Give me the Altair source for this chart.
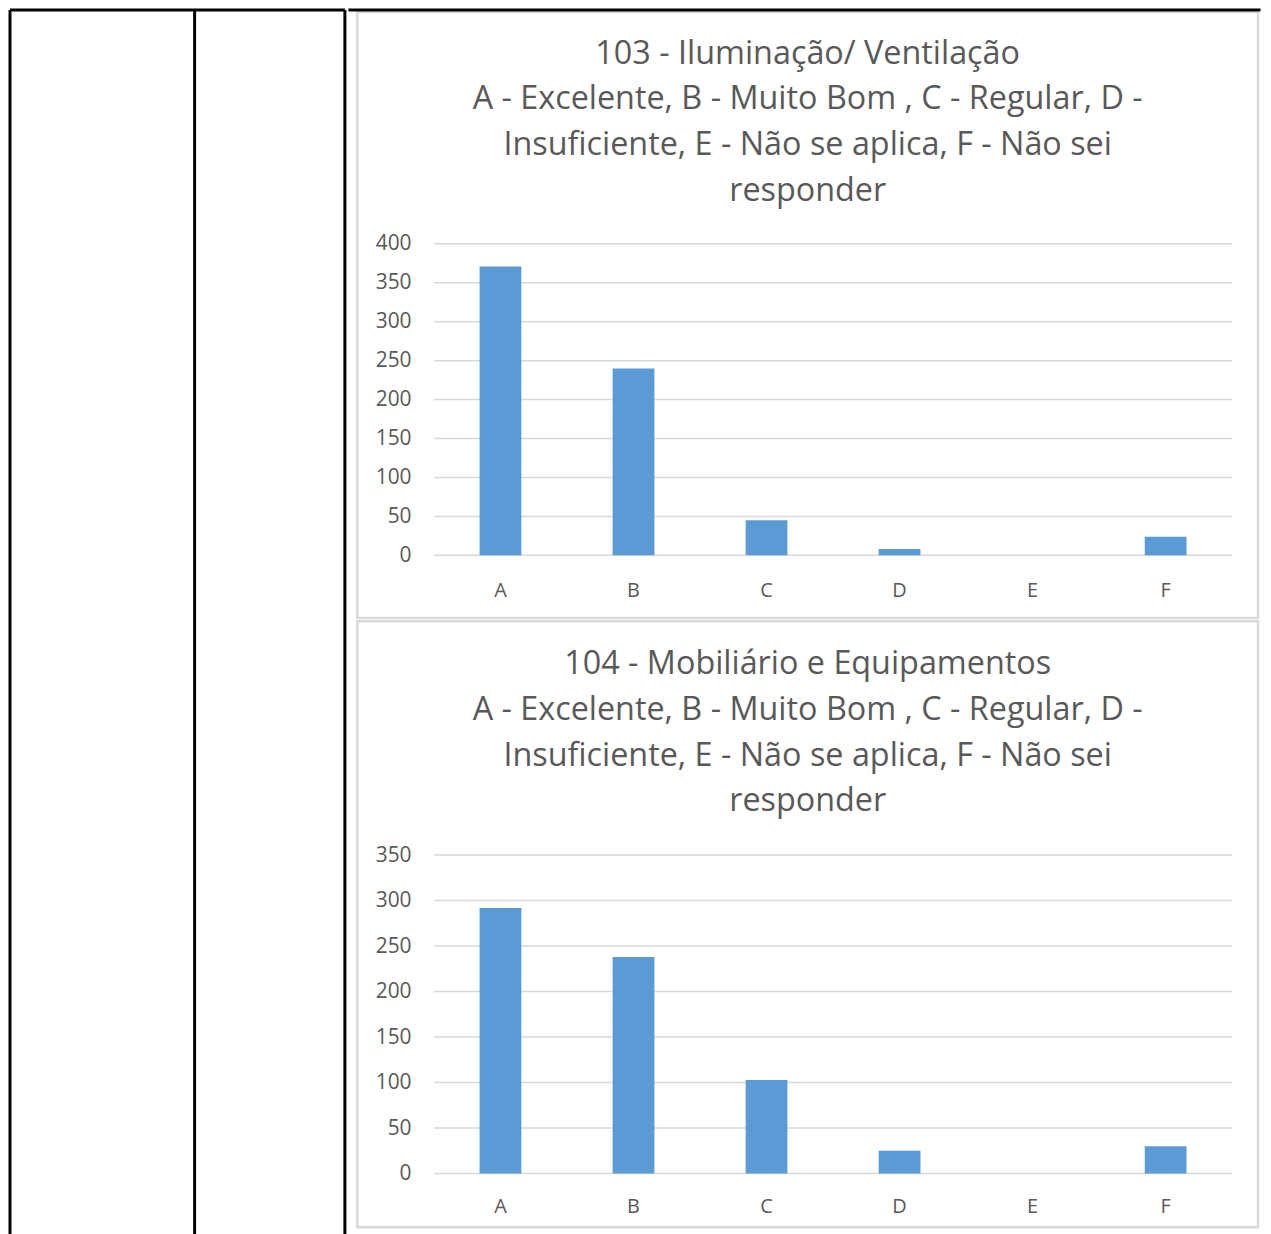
import altair as alt
import pandas as pd

# ---- data ----
categories = ["A", "B", "C", "D", "E", "F"]
values_103 = [371, 240, 45, 8, 0, 24]
values_104 = [292, 238, 103, 25, 0, 30]
ticks_103 = [0, 50, 100, 150, 200, 250, 300, 350, 400]
ticks_104 = [0, 50, 100, 150, 200, 250, 300, 350]
title_103 = ["103 - Iluminação/ Ventilação",
             "A - Excelente, B - Muito Bom , C - Regular, D -",
             "Insuficiente, E - Não se aplica, F - Não sei",
             "responder"]
title_104 = ["104 - Mobiliário e Equipamentos",
             "A - Excelente, B - Muito Bom , C - Regular, D -",
             "Insuficiente, E - Não se aplica, F - Não sei",
             "responder"]

FONT = "Open Sans"
TXT = "#595959"
GRID = "#d9d9d9"
BAR = "#5b9bd5"
PW, PH = 905, 609
X0, X1 = 77, 879
LEFT_W, LEFT_H, MID_X = 336.5, 1240, 185.5

dummy = pd.DataFrame({"d": [0]})


def hline(x, x2, y, color="black", opacity=1.0, cap="butt"):
    return alt.Chart(dummy).mark_rule(color=color, strokeWidth=3, opacity=opacity,
                                      strokeCap=cap).encode(
        x=alt.value(x), x2=alt.value(x2), y=alt.value(y))


def vline(x, y, y2):
    return alt.Chart(dummy).mark_rule(color="black", strokeWidth=3).encode(
        x=alt.value(x), y=alt.value(y), y2=alt.value(y2))


# table frame on the left (two empty columns)
left_unit = alt.layer(
    hline(0, LEFT_W, -2),
    vline(0, -2, LEFT_H),
    vline(MID_X, -2, LEFT_H),
    vline(LEFT_W, -2, LEFT_H),
).properties(width=LEFT_W, height=LEFT_H, view=alt.ViewBackground(strokeWidth=0))


def panel(title_lines, vals, ticks, ymax, y0, ytop, label_pad, title_y, top_line):
    df = pd.DataFrame({"cat": categories, "val": vals})
    yscale = alt.Scale(domain=[0, ymax], range=[y0, ytop], nice=False, zero=True)
    xscale = alt.Scale(domain=categories, range=[X0, X1], paddingInner=0.686, paddingOuter=0.343)
    yaxis = alt.Axis(values=ticks, domain=False, ticks=False, grid=False, title=None,
                     labelFont=FONT, labelFontSize=21, labelColor=TXT, labelPadding=0,
                     offset=-54)
    xaxis = alt.Axis(domain=False, ticks=False, grid=False, title=None, labelAngle=0,
                     labelFont=FONT, labelFontSize=20, labelColor=TXT, labelBaseline="middle",
                     labelPadding=label_pad, offset=y0 - PH)
    grid = alt.Chart(pd.DataFrame({"t": ticks})).mark_rule(color=GRID, strokeWidth=1.5).encode(
        y=alt.Y("t:Q", scale=yscale, axis=yaxis),
        x=alt.value(X0), x2=alt.value(X1),
    )
    bars = alt.Chart(df).mark_bar(color=BAR).encode(
        x=alt.X("cat:N", scale=xscale, axis=xaxis, sort=categories),
        y=alt.Y("val:Q", scale=yscale, axis=yaxis),
    )
    title = alt.Chart(dummy).mark_text(
        text=title_lines, font=FONT, fontSize=32.5, color=TXT, align="center",
        baseline="middle", lineHeight=46,
    ).encode(x=alt.value(PW / 2), y=alt.value(title_y))
    if top_line:
        frame = hline(-7.5, PW + 1, -2, cap="square")
    else:
        frame = hline(-7.5, PW + 1, PH / 2, opacity=0, cap="square")
    return alt.layer(grid, bars, title, frame).properties(
        width=PW, height=PH,
        view=alt.ViewBackground(stroke=GRID, strokeWidth=2.5, fill="white"),
    )


p1 = panel(title_103, values_103, ticks_103, 400, 546, 233, 35, 42, True)
p2 = panel(title_104, values_104, ticks_104, 350, 555, 235, 33, 43, False)

panels = alt.vconcat(p1, p2, spacing=-0.8)
chart = alt.hconcat(left_unit, panels, spacing=0).properties(
    padding={"left": 0, "top": -5, "right": 0, "bottom": 0}
).configure_view(strokeWidth=0)

chart.save("out.html", embed_options={"renderer": "svg", "actions": False})
